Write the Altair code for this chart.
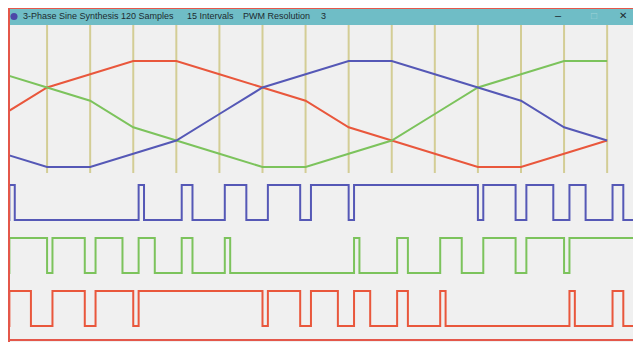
import altair as alt
import pandas as pd

W, H = 625, 334

# ---- data ----
TOTAL_SAMPLES = 120
SAMPLES_PER_INTERVAL = 8
sine_points = list(range(15))                       # 15 interval boundaries
red_levels = [4, 6, 7, 8, 8, 7, 6, 5, 3, 2, 1, 0, 0, 1, 2]
green_levels = [7, 6, 5, 3, 2, 1, 0, 0, 1, 2, 4, 6, 7, 8, 8]
blue_levels = [1, 0, 0, 1, 2, 4, 6, 7, 8, 8, 7, 6, 5, 3, 2]
grid_samples = [8, 16, 24, 32, 40, 48, 56, 64, 72, 80, 88, 96, 104, 112]

# PWM "high" runs [start, end) in sample units
blue_pwm_high = [(1, 2), (25, 26), (33, 35), (41, 45), (49, 55), (57, 64), (65, 88),
                 (89, 95), (97, 102), (105, 108), (113, 115)]
green_pwm_high = [(1, 8), (9, 15), (17, 22), (25, 28), (33, 35), (41, 42), (65, 66),
                  (73, 75), (81, 85), (89, 95), (97, 104), (105, 120)]
red_pwm_high = [(1, 5), (9, 15), (17, 24), (25, 48), (49, 55), (57, 62), (65, 68),
                (73, 75), (81, 82), (105, 106), (113, 115)]

title_main = "3-Phase Sine Synthesis 120 Samples"
title_intervals = "15 Intervals"
title_pwm = "PWM Resolution"
title_res = "3"

RED, GREEN, BLUE = "#e9573c", "#7cc35c", "#5558b6"
GRID = "#d3cd95"
TEAL = "#6fbdc6"

# ---- tables ----
sine_rows = []
for name, lv in (("R", red_levels), ("G", green_levels), ("B", blue_levels)):
    for k, v in zip(sine_points, lv):
        sine_rows.append({"phase": name, "sample": k * SAMPLES_PER_INTERVAL, "level": v})
sine_df = pd.DataFrame(sine_rows)


def steps(runs):
    ev = [{"sample": 0, "state": 0}]
    for a, b in runs:
        ev.append({"sample": a, "state": 1})
        ev.append({"sample": b, "state": 0})
    if ev[-1]["sample"] < TOTAL_SAMPLES:
        ev.append({"sample": TOTAL_SAMPLES, "state": 0})
    return pd.DataFrame(ev)


grid_df = pd.DataFrame({"sample": grid_samples})
one = alt.Data(values=[{}])

xscale = alt.Scale(domain=[0.743, 116.8], nice=False, zero=False)
X = alt.X("sample:Q", scale=xscale, axis=None)

grid = alt.Chart(grid_df).mark_rule(color=GRID, strokeWidth=2).encode(
    x=X, y=alt.value(17), y2=alt.value(165))

sines = alt.Chart(sine_df).mark_line(strokeWidth=2, clip=True).encode(
    x=X,
    y=alt.Y("level:Q", scale=alt.Scale(domain=[0, 8], range=[159, 53]), axis=None),
    color=alt.Color("phase:N", scale=alt.Scale(domain=["R", "G", "B"], range=[RED, GREEN, BLUE]),
                    legend=None),
    detail="phase:N",
)


def pwm(runs, color, lo, hi):
    return alt.Chart(steps(runs)).mark_line(
        strokeWidth=2, color=color, interpolate="step-after", clip=True).encode(
        x=X,
        y=alt.Y("state:Q", scale=alt.Scale(domain=[0, 1], range=[lo, hi]), axis=None),
    )


pwm_b = pwm(blue_pwm_high, BLUE, 212, 177)
pwm_g = pwm(green_pwm_high, GREEN, 265, 230)
pwm_r = pwm(red_pwm_high, RED, 318, 283)

titlebar = alt.Chart(one).mark_rect(color=TEAL).encode(
    x=alt.value(0), x2=alt.value(W), y=alt.value(1), y2=alt.value(17))
topline = alt.Chart(one).mark_rect(color="#e4574a").encode(
    x=alt.value(0), x2=alt.value(W), y=alt.value(0), y2=alt.value(1))
leftline = alt.Chart(one).mark_rect(color="#e4574a").encode(
    x=alt.value(0), x2=alt.value(2), y=alt.value(0), y2=alt.value(H))
bottomline = alt.Chart(one).mark_rect(color="#e4574a").encode(
    x=alt.value(0), x2=alt.value(W), y=alt.value(H - 3), y2=alt.value(H - 1))

icon = alt.Chart(one).mark_point(filled=True, shape="circle", size=50, color="#4c48a8", opacity=1).encode(
    x=alt.value(6), y=alt.value(8.5))


def label(txt, x, size=9, color="#1d2b30", weight="normal", font="Liberation Sans", opacity=1.0):
    return alt.Chart(one).mark_text(
        text=txt, align="left", baseline="middle", fontSize=size, font=font,
        color=color, fontWeight=weight, opacity=opacity).encode(x=alt.value(x), y=alt.value(8))


t1 = label(title_main, 15)
t2 = label(title_intervals, 179)
t3 = label(title_pwm, 235)
t4 = label(title_res, 313)
b_min = label("–", 547, size=11)
b_max = label("□", 583, size=10, color="#9fd3d8")
b_close = label("✕", 611, size=10, weight="bold", font="DejaVu Sans")

chart = alt.layer(
    grid, sines, pwm_b, pwm_g, pwm_r,
    titlebar, topline, icon, t1, t2, t3, t4, b_min, b_max, b_close,
    leftline, bottomline,
).resolve_scale(y="independent").properties(
    width=W, height=H, padding=0, autosize=alt.AutoSizeParams(type="none"),
    background="#f0f0f0",
).configure_view(stroke=None)

chart.save("out.html", embed_options={"renderer": "svg", "actions": False})
